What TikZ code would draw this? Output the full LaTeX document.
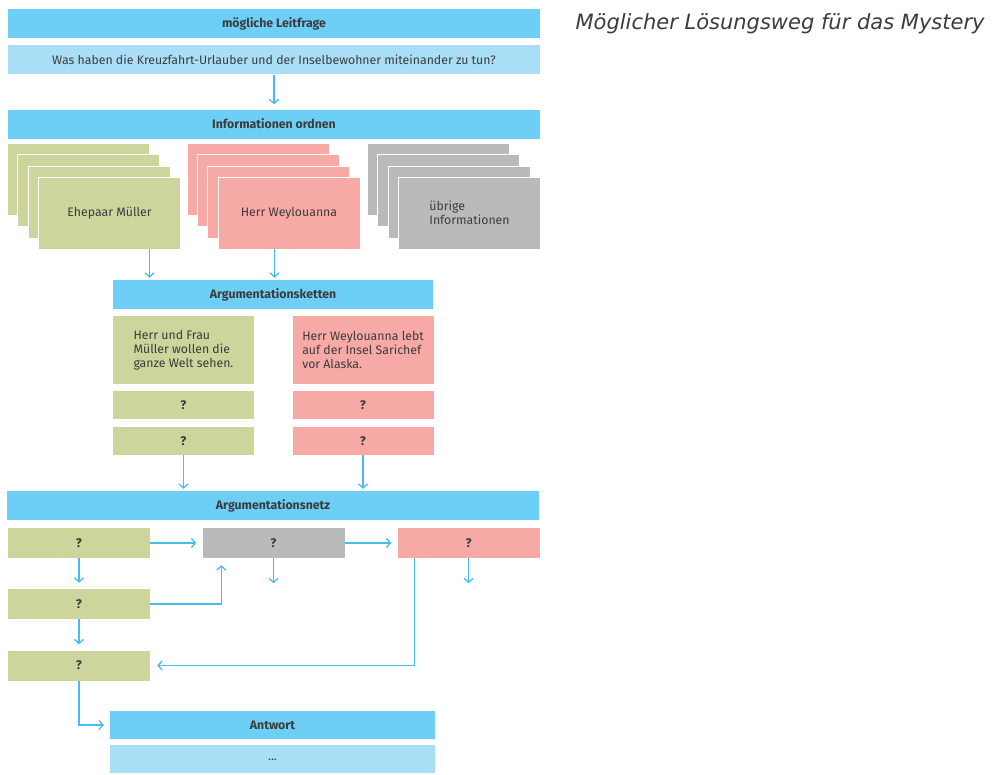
\documentclass[tikz,border=0pt]{standalone}
\usepackage{fontspec}
\setmainfont{Fira Sans}
\newfontfamily\capfont{DejaVu Sans}
\usepackage{tikz}
\usetikzlibrary{positioning,arrows.meta}
\definecolor{hblue}{HTML}{6DCFF6}
\definecolor{lblue}{HTML}{A9DEF7}
\definecolor{olive}{HTML}{CDD49C}
\definecolor{rose}{HTML}{F6A9A5}
\definecolor{stone}{HTML}{B9BABC}
\definecolor{ablue}{HTML}{45BDEE}
\definecolor{txt}{HTML}{3C3C3C}

\begin{document}
\begin{tikzpicture}[x=1pt,y=-1pt,text=txt,font=\fontsize{12.3}{14}\selectfont,
    bar/.style={fill=hblue,minimum width=532pt,minimum height=29pt,inner sep=0pt,font=\fontsize{12.3}{14}\selectfont\bfseries},
    card/.style={draw=white,line width=0.8pt,minimum width=142pt,minimum height=72pt,inner sep=0pt,align=left},
    tbox/.style={minimum width=141pt,minimum height=68pt,inner sep=0pt,align=left},
    qbox/.style={minimum width=141pt,minimum height=28pt,inner sep=0pt,font=\fontsize{12.5}{14}\selectfont\bfseries},
    nbox/.style={minimum width=142pt,minimum height=30pt,inner sep=0pt,font=\fontsize{12.5}{14}\selectfont\bfseries},
    arr/.style={draw=ablue,line width=1.3pt,-{Straight Barb[length=4pt,width=9pt]}}]
    \useasboundingbox (0,0) rectangle (995,774);
    \node[bar] (lq) at (274,23.5) {mögliche Leitfrage};
    \node[bar,fill=lblue,font=\fontsize{12.3}{14}\selectfont] (fq) [below=7pt of lq] {Was haben die Kreuzfahrt-Urlauber und der Inselbewohner miteinander zu tun?};
    \node[bar] (info) at (274,124) {Informationen ordnen};
    \foreach \i/\d in {1/31,2/20.7,3/10.3} {
        \node[card,fill=olive] (g\i) at (109.5-\d,213-\d*1.07) {};
        \node[card,fill=rose] (p\i) at (289-\d,213-\d*1.07) {};
        \node[card,fill=stone] (o\i) at (469.5-\d,213-\d*1.07) {};
    }
    \node[card,fill=olive] (g4) at (109.5,213) {Ehepaar Müller};
    \node[card,fill=rose] (p4) at (289,213) {Herr Weylouanna};
    \node[card,fill=stone] (o4) at (469.5,213) {übrige\\Informationen};
    \node[bar,minimum width=320pt] (kette) at (273,294.5) {Argumentationsketten};
    \node[tbox,fill=olive] (gk) at (183.5,350) {Herr und Frau\\Müller wollen die\\ganze Welt sehen.};
    \node[qbox,fill=olive] (gq1) [below=7pt of gk] {?};
    \node[qbox,fill=olive] (gq2) [below=7pt of gq1] {?};
    \node[tbox,fill=rose] (pk) at (363,350) {Herr Weylouanna lebt\\auf der Insel Sarichef\\vor Alaska.};
    \node[qbox,fill=rose] (pq1) [below=7pt of pk] {?};
    \node[qbox,fill=rose] (pq2) [below=7pt of pq1] {?};
    \node[bar] (netz) at (273,505.5) {Argumentationsnetz};
    \node[nbox,fill=olive] (n1) at (79,543) {?};
    \node[nbox,fill=stone] (n2) at (273.5,543) {?};
    \node[nbox,fill=rose] (n3) at (468.5,543) {?};
    \node[nbox,fill=olive] (n4) at (79,604) {?};
    \node[nbox,fill=olive] (n5) at (79,665.5) {?};
    \node[bar,minimum width=325pt,minimum height=28pt] (antw) at (272.5,725) {Antwort};
    \node[bar,minimum width=325pt,minimum height=28pt,fill=lblue,font=\fontsize{12.3}{14}\selectfont] (dots) [below=6pt of antw] {...};
    \node[anchor=base west,font=\capfont\itshape\fontsize{21}{25}\selectfont,text=txt] (cap) at (572,29.5) {Möglicher Lösungsweg für das Mystery};
    \coordinate (e2) at ([yshift=-25pt]n2.south);
    \coordinate (e3) at ([yshift=-25pt]n3.south);
    \path[arr]
    (fq) edge[shorten >=5pt] (info)
    (n1) edge[shorten >=6pt] (n2)
    (n2) edge[shorten >=6pt] (n3)
    (n1) edge[shorten >=6pt] (n4)
    (n4) edge[shorten >=6pt] (n5);
    \draw[arr] (n2.south) -- (e2);
    \draw[arr] (n3.south) -- (e3);
    \draw[arr,shorten >=2pt] ([xshift=40pt]g4.south) -- ([xshift=40pt]g4.south |- kette.north);
    \draw[arr,shorten >=2pt] ([xshift=-14.5pt]p4.south) -- ([xshift=-14.5pt]p4.south |- kette.north);
    \draw[arr,shorten >=2pt] (gq2.south) -- (gq2.south |- netz.north);
    \draw[arr,shorten >=2pt] (pq2.south) -- (pq2.south |- netz.north);
    \draw[arr,shorten >=7pt] (n4.east) -| ([xshift=19pt]n2.south west);
    \draw[arr,shorten >=7pt] ([xshift=17pt]n3.south west) |- (n5.east);
    \draw[arr,shorten >=6pt] (n5.south) |- (antw.west);
\end{tikzpicture}
\end{document}
